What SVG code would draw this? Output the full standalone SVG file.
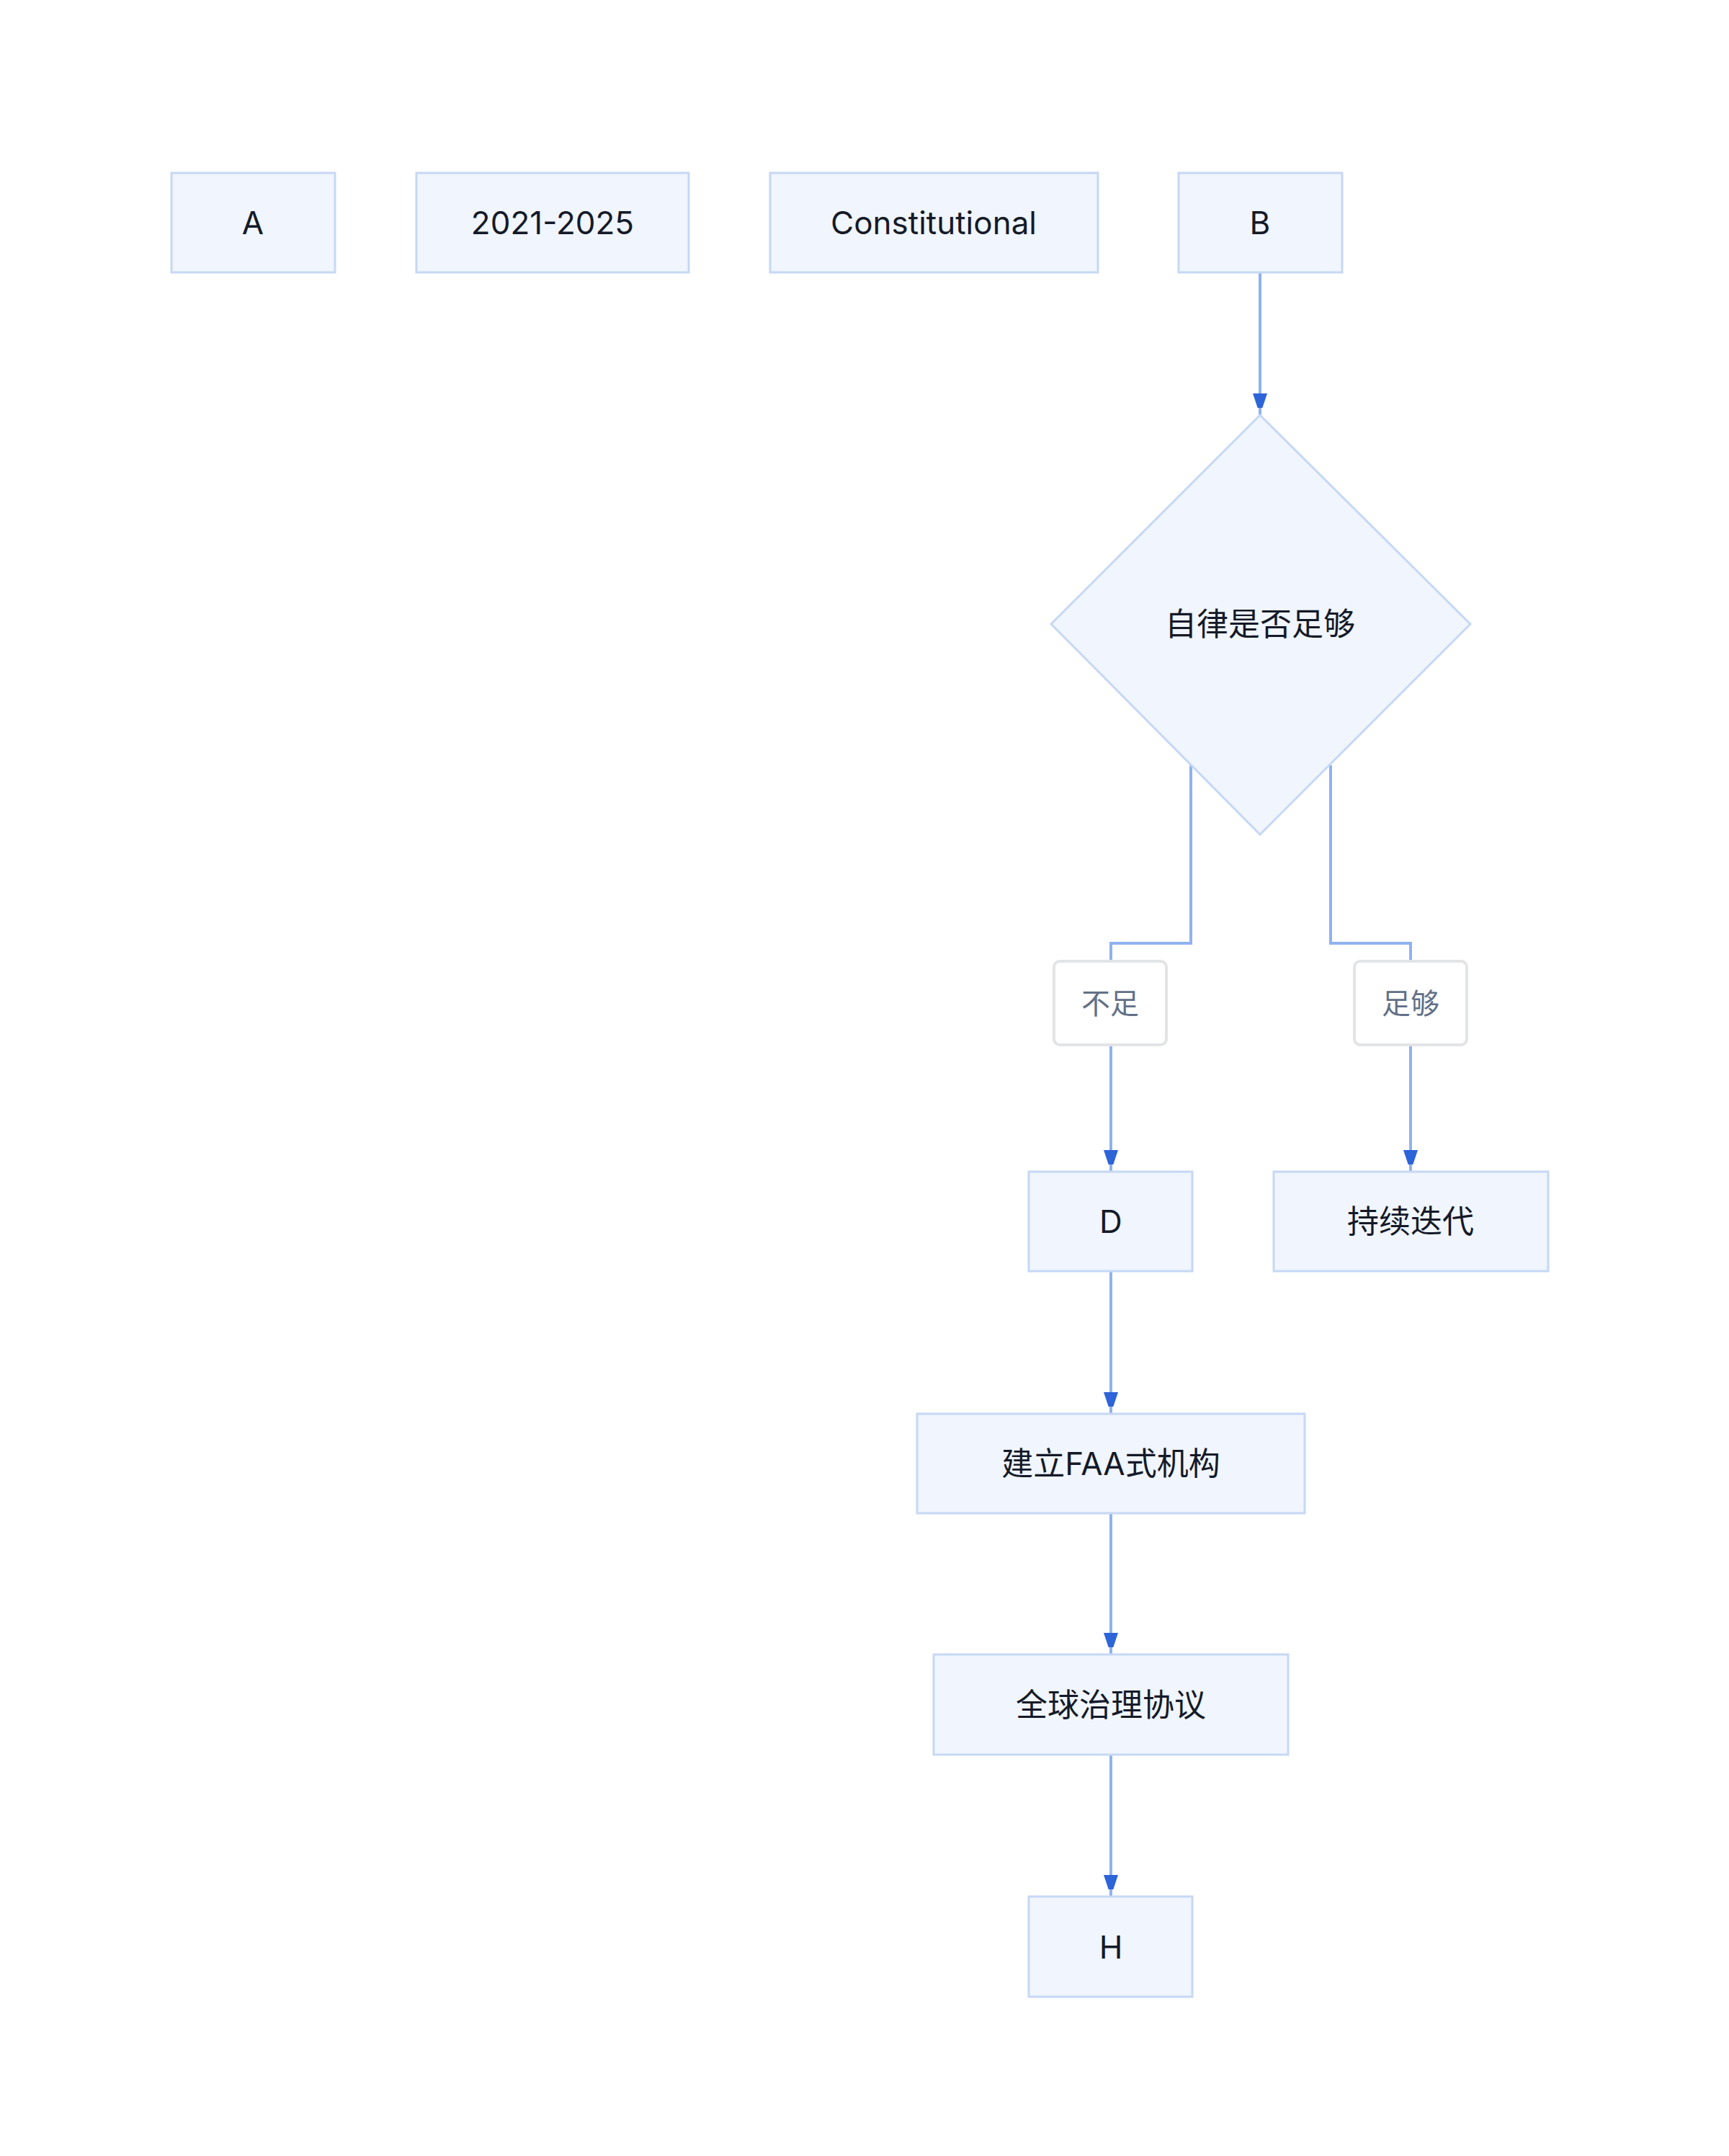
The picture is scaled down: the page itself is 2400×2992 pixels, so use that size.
<svg xmlns="http://www.w3.org/2000/svg" width="2400" height="2992" viewBox="0 0 2400 2992">
<style>
.n{fill:#f0f5fe;stroke:#c6d8f4;stroke-width:3}
.t{font-family:Inter,"Noto Sans","Noto Sans CJK SC",sans-serif;font-size:44px;fill:#151a28;text-anchor:middle;dominant-baseline:central}
.lb{fill:#fff;stroke:#e3e4e6;stroke-width:4}
.lt{font-family:Inter,"Noto Sans","Noto Sans CJK SC",sans-serif;font-size:40px;fill:#627087;text-anchor:middle;dominant-baseline:central}
.e{fill:none;stroke:#8fb2f0;stroke-width:4}
</style>
<defs><marker id="ar" viewBox="0 0 10 10" refX="10" refY="5" markerWidth="6" markerHeight="6" markerUnits="userSpaceOnUse" orient="auto"><path d="M0,0L10,5L0,10z" fill="#2d64d8"/></marker>
<marker id="a" viewBox="0 0 20 30" refX="30" refY="10" markerWidth="20" markerHeight="30" orient="auto" markerUnits="userSpaceOnUse"><path d="M0,0L30,10L0,20z" fill="#2d64d8"/></marker></defs>
<rect width="2400" height="2992" fill="#fff"/>
<g id="edges">
<path class="e" d="M1749,378V576" marker-end="url(#a)"/>
<path class="e" d="M1653,1062V1309H1542V1334"/>
<path class="e" d="M1542,1450V1626" marker-end="url(#a)"/>
<path class="e" d="M1847,1062V1309H1958V1334"/>
<path class="e" d="M1958,1450V1626" marker-end="url(#a)"/>
<path class="e" d="M1542,1764V1962" marker-end="url(#a)"/>
<path class="e" d="M1542,2100V2296" marker-end="url(#a)"/>
<path class="e" d="M1542,2435V2632" marker-end="url(#a)"/>
</g>
<g id="A"><rect class="n" x="238" y="240" width="227" height="138"/><text class="t" x="351" y="309">A</text></g>
<g id="Y"><rect class="n" x="578" y="240" width="378" height="138"/><text class="t" x="767" y="309">2021-2025</text></g>
<g id="C"><rect class="n" x="1069" y="240" width="455" height="138"/><text class="t" x="1296" y="309">Constitutional</text></g>
<g id="B"><rect class="n" x="1636" y="240" width="227" height="138"/><text class="t" x="1749" y="309">B</text></g>
<g id="Q"><path class="n" d="M1749,576L2041,866L1749,1158L1459,866Z"/><text class="t" x="1749" y="866">自律是否足够</text></g>
<g id="L1"><rect class="lb" x="1463" y="1334" width="156" height="116" rx="8"/><text class="lt" x="1541" y="1392">不足</text></g>
<g id="L2"><rect class="lb" x="1880" y="1334" width="156" height="116" rx="8"/><text class="lt" x="1958" y="1392">足够</text></g>
<g id="D"><rect class="n" x="1428" y="1626" width="227" height="138"/><text class="t" x="1542" y="1695">D</text></g>
<g id="E"><rect class="n" x="1768" y="1626" width="381" height="138"/><text class="t" x="1958" y="1695">持续迭代</text></g>
<g id="F"><rect class="n" x="1273" y="1962" width="538" height="138"/><text class="t" x="1542" y="2031">建立FAA式机构</text></g>
<g id="G"><rect class="n" x="1296" y="2296" width="492" height="139"/><text class="t" x="1542" y="2366">全球治理协议</text></g>
<g id="H"><rect class="n" x="1428" y="2632" width="227" height="139"/><text class="t" x="1542" y="2702">H</text></g>
</svg>
